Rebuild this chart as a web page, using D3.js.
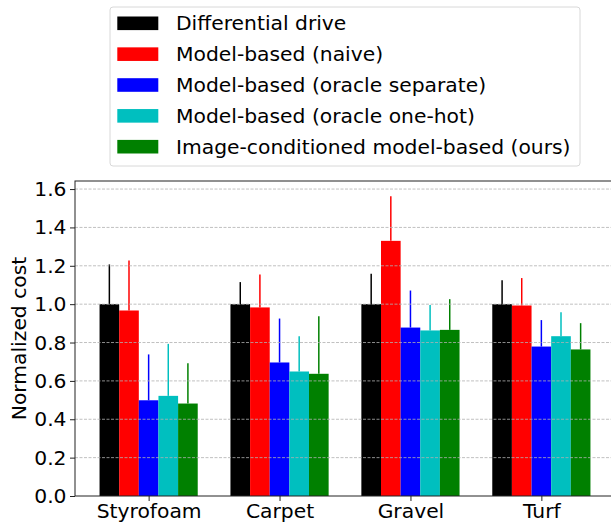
<!DOCTYPE html>
<html>
<head>
<meta charset="utf-8">
<script src="https://cdn.jsdelivr.net/npm/d3@7"></script>
<style>
  body { margin: 0; background: #fff; }
  text { font-family: "DejaVu Sans", sans-serif; }
</style>
</head>
<body>
<div id="chart"></div>
<script>
var terrains = ["Styrofoam", "Carpet", "Gravel", "Turf"];
var methods = ["Differential drive", "Model-based (naive)", "Model-based (oracle separate)",
               "Model-based (oracle one-hot)", "Image-conditioned model-based (ours)"];
var colors = ["#000000", "#ff0000", "#0000ff", "#00bfbf", "#008000"];

// mean cost per method, one entry per terrain
var means = [
  [1.0, 1.0, 1.0, 1.0],
  [0.967, 0.983, 1.330, 0.993],
  [0.499, 0.696, 0.878, 0.779],
  [0.522, 0.649, 0.863, 0.833],
  [0.482, 0.637, 0.866, 0.764]
];
// top of error bar per method
var errTops = [
  [1.207, 1.115, 1.158, 1.124],
  [1.228, 1.155, 1.563, 1.136],
  [0.738, 0.925, 1.071, 0.917],
  [0.793, 0.833, 0.996, 0.958],
  [0.692, 0.937, 1.026, 0.901]
];
var yTicks = [0, 0.2, 0.4, 0.6, 0.8, 1.0, 1.2, 1.4, 1.6];

var W = 611, H = 523,
    margin = { top: 181, right: -4, bottom: 27, left: 75 },
    width = W - margin.left - margin.right,
    height = H - margin.top - margin.bottom,
    barW = 0.15,
    fs = "20.3px";

var svg = d3.select("#chart").append("svg").attr("width", W).attr("height", H);
var g = svg.append("g").attr("transform", "translate(" + margin.left + "," + margin.top + ")");

var x = d3.scaleLinear().domain([-0.5625, 3.5625]).range([0, width]);
var y = d3.scaleLinear().domain([0, 1.642]).range([height, 0]);

// bars
methods.forEach(function (m, k) {
  var off = (k - 2) * barW;
  var sg = g.append("g");
  sg.selectAll("rect")
    .data(means[k])
    .enter().append("rect")
    .attr("x", function (d, i) { return x(i + off - barW / 2); })
    .attr("width", x(barW) - x(0))
    .attr("y", function (d) { return y(d); })
    .attr("height", function (d) { return y(0) - y(d); })
    .attr("fill", colors[k]);
  sg.selectAll("line")
    .data(errTops[k])
    .enter().append("line")
    .attr("x1", function (d, i) { return x(i + off); })
    .attr("x2", function (d, i) { return x(i + off); })
    .attr("y1", function (d, i) { return y(means[k][i]); })
    .attr("y2", function (d) { return y(d); })
    .attr("stroke", colors[k])
    .attr("stroke-width", 1.5);
});

// grid on top
g.append("g").selectAll("line")
  .data(yTicks.slice(1))
  .enter().append("line")
  .attr("x1", 0).attr("x2", width)
  .attr("y1", function (d) { return y(d); })
  .attr("y2", function (d) { return y(d); })
  .attr("stroke", "#b0b0b0")
  .attr("stroke-width", 0.8)
  .attr("stroke-dasharray", "3,1.5");

// axes
var yAxis = g.append("g")
  .call(d3.axisLeft(y).tickValues(yTicks).tickFormat(d3.format(".1f")).tickSize(5).tickPadding(3.5));
var xAxis = g.append("g").attr("transform", "translate(0," + height + ")")
  .call(d3.axisBottom(x).tickValues(d3.range(terrains.length)).tickFormat(function (i) { return terrains[i]; })
    .tickSize(5).tickPadding(3));
[yAxis, xAxis].forEach(function (a) {
  a.select(".domain").remove();
  a.selectAll("text").attr("font-size", fs).attr("fill", "#000");
  a.selectAll("line").attr("stroke", "#222");
});

// spines
g.append("rect").attr("width", width).attr("height", height)
  .attr("fill", "none").attr("stroke", "#222").attr("stroke-width", 1);

g.append("text")
  .attr("transform", "translate(" + (18.5 - margin.left) + "," + (height / 2) + ") rotate(-90)")
  .attr("text-anchor", "middle")
  .attr("dominant-baseline", "central")
  .attr("font-size", fs)
  .text("Normalized cost");

// legend
var leg = svg.append("g").attr("transform", "translate(110,7)");
leg.append("rect").attr("width", 470).attr("height", 159).attr("rx", 3)
  .attr("fill", "#fff").attr("stroke", "#d8d8d8");
var rows = leg.selectAll("g.row").data(methods).enter().append("g")
  .attr("class", "row")
  .attr("transform", function (d, i) { return "translate(0," + (16.3 + i * 30.85) + ")"; });
rows.append("rect").attr("x", 7.3).attr("y", -6.8).attr("width", 41).attr("height", 13.6)
  .attr("fill", function (d, i) { return colors[i]; });
rows.append("text").attr("x", 66).attr("dominant-baseline", "central")
  .attr("font-size", fs).text(function (d) { return d; });
</script>
</body>
</html>
